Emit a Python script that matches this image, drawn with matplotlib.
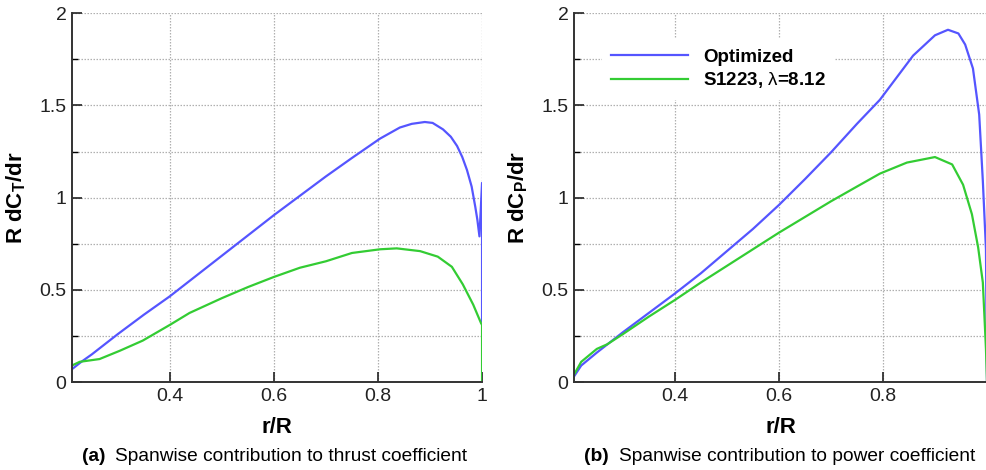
import matplotlib
matplotlib.use('Agg')
import matplotlib.pyplot as plt
from matplotlib.ticker import MultipleLocator, FuncFormatter

plt.rcParams['font.family'] = ['Liberation Sans', 'DejaVu Sans']
plt.rcParams['mathtext.fontset'] = 'custom'
plt.rcParams['mathtext.rm'] = 'Liberation Sans'
plt.rcParams['mathtext.it'] = 'Liberation Sans'
plt.rcParams['mathtext.bf'] = 'Liberation Sans:bold'

# thrust panel (a)
ct_opt_r = [0.212, 0.23, 0.25, 0.30, 0.35, 0.40, 0.45, 0.50, 0.55, 0.60, 0.65, 0.70,
            0.75, 0.804, 0.842, 0.865, 0.89, 0.905, 0.925, 0.94, 0.952, 0.962, 0.971, 0.98,
            0.987, 0.991, 0.995, 1.0, 1.0]
ct_opt = [0.07, 0.11, 0.15, 0.26, 0.365, 0.465, 0.575, 0.685, 0.795, 0.905, 1.01, 1.115,
          1.215, 1.32, 1.38, 1.40, 1.41, 1.405, 1.37, 1.33, 1.28, 1.22, 1.15, 1.06,
          0.95, 0.88, 0.79, 1.08, 0.33]
ct_s12_r = [0.212, 0.227, 0.265, 0.304, 0.348, 0.40, 0.438, 0.50, 0.55, 0.60, 0.65, 0.70,
            0.75, 0.804, 0.836, 0.881, 0.915, 0.942, 0.963, 0.983, 0.998, 1.0, 1.0]
ct_s12 = [0.09, 0.11, 0.125, 0.17, 0.225, 0.31, 0.375, 0.455, 0.515, 0.57, 0.62, 0.655,
          0.70, 0.72, 0.725, 0.71, 0.68, 0.625, 0.53, 0.42, 0.32, 0.31, 0.0]

# power panel (b)
cp_opt_r = [0.206, 0.22, 0.25, 0.30, 0.35, 0.40, 0.45, 0.50, 0.55, 0.60, 0.65, 0.70, 0.75,
            0.794, 0.858, 0.90, 0.925, 0.945, 0.958, 0.973, 0.985, 0.992, 0.998, 1.0]
cp_opt = [0.03, 0.09, 0.16, 0.27, 0.375, 0.48, 0.59, 0.71, 0.83, 0.96, 1.10, 1.245, 1.40,
          1.53, 1.77, 1.88, 1.91, 1.89, 1.83, 1.70, 1.45, 1.09, 0.72, 0.0]
cp_s12_r = [0.206, 0.22, 0.25, 0.27, 0.30, 0.35, 0.40, 0.45, 0.50, 0.55, 0.60, 0.65, 0.70,
            0.75, 0.794, 0.846, 0.90, 0.933, 0.954, 0.971, 0.983, 0.992, 0.998, 1.0]
cp_s12 = [0.04, 0.11, 0.18, 0.205, 0.26, 0.355, 0.445, 0.54, 0.63, 0.72, 0.81, 0.895, 0.98,
          1.06, 1.13, 1.19, 1.22, 1.18, 1.07, 0.91, 0.73, 0.54, 0.18, 0.0]

blue = '#5555ff'
green = '#33cc33'

fig = plt.figure(figsize=(9.87, 4.70), dpi=100)
ax1 = fig.add_axes([0.0729, 0.187, 0.4155, 0.785])
ax2 = fig.add_axes([0.5815, 0.187, 0.4185, 0.785])


def style(ax, xmin, ylab):
    ax.set_xlim(xmin, 1.0)
    ax.set_ylim(0, 2)
    ax.xaxis.set_major_locator(MultipleLocator(0.2))
    ax.yaxis.set_major_locator(MultipleLocator(0.5))
    ax.yaxis.set_minor_locator(MultipleLocator(0.25))
    ax.xaxis.set_major_formatter(FuncFormatter(lambda v, p: '%g' % round(v, 2)))
    ax.yaxis.set_major_formatter(FuncFormatter(lambda v, p: '%g' % round(v, 2)))
    ax.grid(True, which='both', color='#b0b0b0', linestyle=(0, (1.2, 1.2)), linewidth=0.9)
    ax.tick_params(which='major', direction='in', length=7, width=1.2, labelsize=14,
                   colors='#222222', pad=4)
    ax.tick_params(which='minor', direction='in', length=4, width=1.0)
    for s in ['top', 'right']:
        ax.spines[s].set_visible(False)
    for s in ['left', 'bottom']:
        ax.spines[s].set_linewidth(1.4)
        ax.spines[s].set_color('#333333')
    ax.set_xlabel('r/R', fontsize=16, fontweight='bold')
    ax.xaxis.set_label_coords(0.5, -0.122)
    ax.xaxis.label.set_va('center')
    ax.set_ylabel(ylab, fontsize=16, fontweight='bold')
    ax.yaxis.set_label_coords(-0.135, 0.5)
    ax.yaxis.label.set_va('center')


ax1.plot(ct_opt_r, ct_opt, color=blue, lw=1.6, label='Optimized')
ax1.plot(ct_s12_r, ct_s12, color=green, lw=1.6, label=r'S1223, $\lambda$=8.12')
style(ax1, 0.212, r'R dC$_\mathbf{T}$/dr')

ax2.plot(cp_opt_r, cp_opt, color=blue, lw=1.6, label='Optimized')
ax2.plot(cp_s12_r, cp_s12, color=green, lw=1.6, label=r'S1223, $\lambda$=8.12')
style(ax2, 0.206, r'R dC$_\mathbf{P}$/dr')
# the "1" label falls off the right edge of the figure in the original
ax2.set_xticks([0.4, 0.6, 0.8])

leg = ax2.legend(loc='upper left', bbox_to_anchor=(0.045, 0.955), frameon=True, fancybox=False,
                 prop={'weight': 'bold', 'size': 13.5}, handlelength=4.1, handletextpad=0.8,
                 labelspacing=0.25, borderpad=0.5)
leg.get_frame().set_edgecolor('none')
leg.get_frame().set_facecolor('white')
leg.get_frame().set_alpha(1)

cap_y = 0.028
fig.text(0.083, cap_y, '(a)', fontsize=13.8, fontweight='bold', va='center')
fig.text(0.117, cap_y, 'Spanwise contribution to thrust coefficient', fontsize=13.8, va='center')
fig.text(0.592, cap_y, '(b)', fontsize=13.8, fontweight='bold', va='center')
fig.text(0.627, cap_y, 'Spanwise contribution to power coefficient', fontsize=13.8, va='center')

fig.savefig('out.png', dpi=100)
